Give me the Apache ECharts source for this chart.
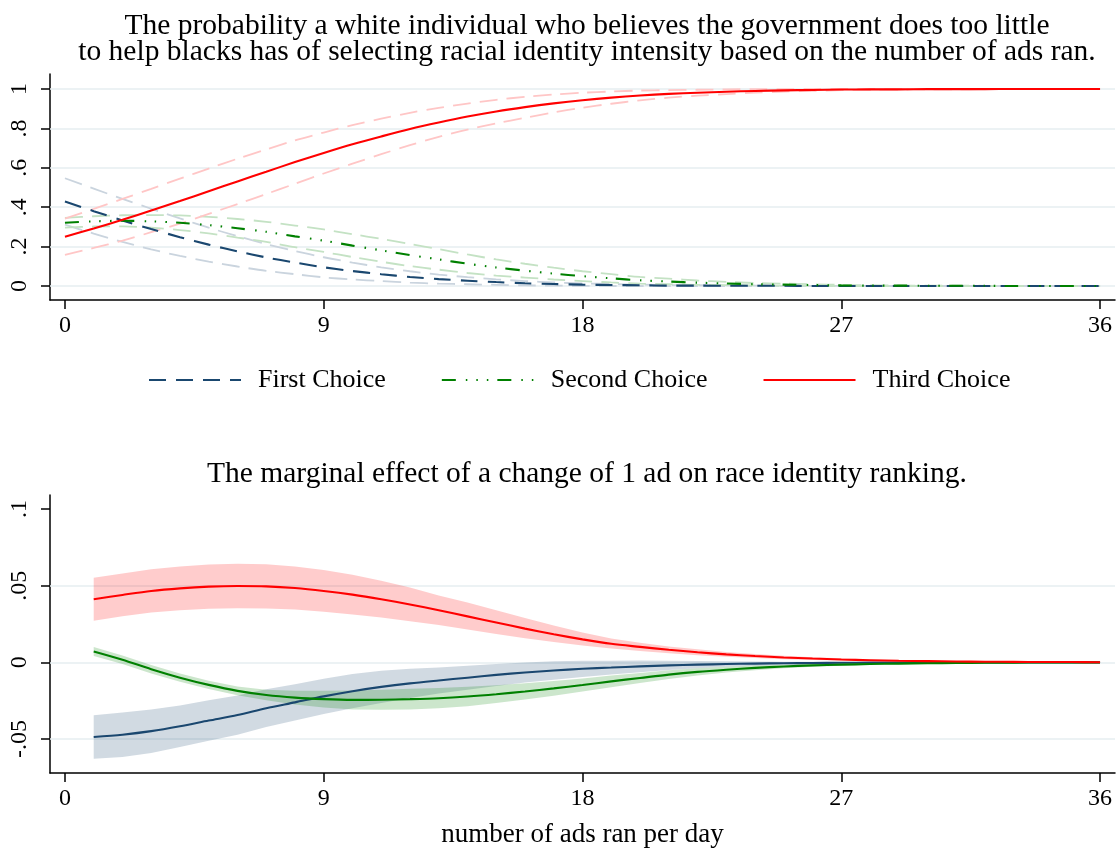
<!DOCTYPE html>
<html>
<head>
<meta charset="utf-8">
<script src="https://cdn.jsdelivr.net/npm/echarts@6/dist/echarts.min.js"></script>
<style>
  html, body { margin: 0; padding: 0; background: #ffffff; }
  #chart { width: 1117px; height: 849px; }
</style>
</head>
<body>
<div id="chart"></div>
<script>
// Ads per day (upper panel: predicted probabilities, lower panel: marginal effects)
const adsTop = [0,1,2,3,4,5,6,7,8,9,10,11,12,13,14,15,16,17,18,19,20,21,22,23,24,25,26,27,28,29,30,31,32,33,34,35,36];
const adsBottom = [1,2,3,4,5,6,7,8,9,10,11,12,13,14,15,16,17,18,19,20,21,22,23,24,25,26,27,28,29,30,31,32,33,34,35,36];

// Predicted probability of each ranking, with 95% bounds
const firstProb   = [0.429,0.380,0.333,0.289,0.248,0.210,0.176,0.145,0.119,0.095,0.076,0.060,0.046,0.035,0.027,0.020,0.014,0.010,0.007,0.005,0.004,0.002,0.002,0.001,0.001,0.001,0.000,0.000,0.000,0.000,0.000,0.000,0.000,0.000,0.000,0.000,0.000];
const firstProbHi = [0.547,0.494,0.442,0.392,0.343,0.296,0.253,0.213,0.178,0.146,0.119,0.095,0.075,0.058,0.045,0.034,0.025,0.018,0.013,0.010,0.007,0.005,0.004,0.003,0.002,0.001,0.001,0.001,0.000,0.000,0.000,0.000,0.000,0.000,0.000,0.000,0.000];
const firstProbLo = [0.311,0.266,0.224,0.186,0.153,0.124,0.099,0.077,0.060,0.044,0.033,0.025,0.017,0.012,0.009,0.006,0.003,0.002,0.001,0.000,0.000,0.000,0.000,0.000,0.000,0.000,0.000,0.000,0.000,0.000,0.000,0.000,0.000,0.000,0.000,0.000,0.000];

const secondProb   = [0.321,0.328,0.331,0.328,0.321,0.309,0.293,0.275,0.252,0.230,0.205,0.181,0.157,0.135,0.113,0.094,0.078,0.063,0.050,0.039,0.029,0.023,0.017,0.013,0.009,0.007,0.005,0.003,0.002,0.002,0.001,0.001,0.001,0.000,0.000,0.000,0.000];
const secondProbHi = [0.346,0.354,0.359,0.360,0.358,0.351,0.340,0.326,0.307,0.287,0.263,0.239,0.213,0.187,0.160,0.135,0.113,0.093,0.075,0.060,0.046,0.037,0.028,0.021,0.015,0.012,0.009,0.006,0.004,0.003,0.002,0.002,0.001,0.000,0.000,0.000,0.000];
const secondProbLo = [0.296,0.302,0.303,0.296,0.284,0.267,0.246,0.224,0.197,0.173,0.147,0.123,0.101,0.083,0.066,0.053,0.043,0.033,0.025,0.018,0.012,0.009,0.006,0.005,0.003,0.002,0.001,0.000,0.000,0.000,0.000,0.000,0.000,0.000,0.000,0.000,0.000];

const thirdProb   = [0.250,0.292,0.336,0.383,0.431,0.481,0.531,0.580,0.629,0.675,0.719,0.759,0.797,0.830,0.860,0.886,0.908,0.927,0.943,0.956,0.967,0.975,0.981,0.986,0.990,0.993,0.995,0.997,0.998,0.998,0.999,0.999,0.999,1.000,1.000,1.000,1.000];
const thirdProbHi = [0.342,0.391,0.442,0.493,0.545,0.596,0.646,0.693,0.739,0.779,0.817,0.849,0.879,0.904,0.926,0.945,0.960,0.972,0.981,0.987,0.992,0.994,0.996,0.998,0.999,0.999,1.000,1.000,1.000,1.000,1.000,1.000,1.000,1.000,1.000,1.000,1.000];
const thirdProbLo = [0.158,0.193,0.230,0.273,0.317,0.366,0.416,0.467,0.519,0.571,0.621,0.669,0.715,0.757,0.794,0.825,0.854,0.881,0.905,0.925,0.942,0.956,0.966,0.974,0.981,0.987,0.990,0.994,0.996,0.997,0.998,0.998,0.999,0.999,0.999,1.000,1.000];

// Marginal effect of one more ad, with 95% bounds
const firstME   = [-0.0487,-0.0472,-0.0449,-0.0417,-0.0380,-0.0344,-0.0299,-0.0261,-0.0222,-0.0188,-0.0160,-0.0137,-0.0118,-0.0100,-0.0082,-0.0066,-0.0053,-0.0042,-0.0034,-0.0026,-0.0020,-0.0015,-0.0011,-0.0008,-0.0006,-0.0004,-0.0003,-0.0002,-0.0002,-0.0001,-0.0001,-0.0001,0,0,0,0];
const firstMELo = [-0.0629,-0.0617,-0.0591,-0.0553,-0.0512,-0.0472,-0.0422,-0.0379,-0.0337,-0.0300,-0.0265,-0.0232,-0.0203,-0.0178,-0.0154,-0.0131,-0.0113,-0.0095,-0.0079,-0.0064,-0.0050,-0.0039,-0.0029,-0.0022,-0.0016,-0.0012,-0.0009,-0.0006,-0.0005,-0.0003,-0.0002,-0.0002,-0.0001,-0.0001,-0.0001,-0.0001];
const firstMEHi = [-0.0345,-0.0327,-0.0307,-0.0281,-0.0248,-0.0216,-0.0176,-0.0143,-0.0107,-0.0076,-0.0055,-0.0042,-0.0033,-0.0022,-0.0010,-0.0001,0.0007,0.0011,0.0011,0.0012,0.0010,0.0009,0.0007,0.0006,0.0004,0.0004,0.0003,0.0002,0.0001,0.0001,0,0,0.0001,0.0001,0.0001,0.0001];

const secondME   = [0.0071,0.0017,-0.0045,-0.0100,-0.0147,-0.0186,-0.0213,-0.0230,-0.0240,-0.0245,-0.0244,-0.0240,-0.0234,-0.0223,-0.0208,-0.0190,-0.0170,-0.0148,-0.0124,-0.0102,-0.0080,-0.0062,-0.0048,-0.0036,-0.0027,-0.0020,-0.0015,-0.0011,-0.0008,-0.0006,-0.0004,-0.0003,-0.0002,-0.0001,-0.0001,-0.0001];
const secondMELo = [0.0042,-0.0011,-0.0072,-0.0127,-0.0174,-0.0214,-0.0248,-0.0275,-0.0295,-0.0307,-0.0310,-0.0307,-0.0300,-0.0286,-0.0266,-0.0243,-0.0218,-0.0191,-0.0162,-0.0135,-0.0108,-0.0085,-0.0067,-0.0051,-0.0039,-0.0029,-0.0022,-0.0016,-0.0012,-0.0009,-0.0006,-0.0005,-0.0003,-0.0002,-0.0002,-0.0002];
const secondMEHi = [0.0100,0.0045,-0.0018,-0.0073,-0.0120,-0.0158,-0.0178,-0.0185,-0.0185,-0.0183,-0.0178,-0.0173,-0.0168,-0.0160,-0.0150,-0.0137,-0.0122,-0.0105,-0.0086,-0.0069,-0.0052,-0.0039,-0.0029,-0.0021,-0.0015,-0.0011,-0.0008,-0.0006,-0.0004,-0.0003,-0.0002,-0.0001,-0.0001,0,0,0];

const thirdME   = [0.0412,0.0440,0.0466,0.0483,0.0494,0.0498,0.0496,0.0485,0.0466,0.0442,0.0412,0.0378,0.0340,0.0300,0.0260,0.0220,0.0183,0.0150,0.0121,0.0101,0.0082,0.0066,0.0052,0.0041,0.0032,0.0025,0.0019,0.0014,0.0010,0.0008,0.0006,0.0004,0.0003,0.0002,0.0002,0.0001];
const thirdMELo = [0.0272,0.0301,0.0325,0.0340,0.0349,0.0353,0.0352,0.0345,0.0330,0.0312,0.0292,0.0268,0.0244,0.0215,0.0185,0.0158,0.0132,0.0110,0.0090,0.0074,0.0060,0.0047,0.0036,0.0028,0.0021,0.0016,0.0012,0.0009,0.0006,0.0005,0.0004,0.0003,0.0002,0.0001,0.0001,0.0001];
const thirdMEHi = [0.0552,0.0579,0.0607,0.0626,0.0639,0.0643,0.0640,0.0625,0.0602,0.0572,0.0532,0.0488,0.0436,0.0390,0.0340,0.0290,0.0240,0.0195,0.0155,0.0128,0.0104,0.0085,0.0068,0.0054,0.0043,0.0034,0.0026,0.0019,0.0014,0.0011,0.0008,0.0006,0.0004,0.0003,0.0003,0.0002];

// Tick values and labels
const xTicks = [0, 9, 18, 27, 36];
const probTicks = [0, 0.2, 0.4, 0.6, 0.8, 1];
const probTickLabels = ['0', '.2', '.4', '.6', '.8', '1'];
const meTicks = [-0.05, 0, 0.05, 0.1];
const meTickLabels = ['-.05', '0', '.05', '.1'];
const meGridValues = [-0.05, 0, 0.05];

const legendNames = ['First Choice', 'Second Choice', 'Third Choice'];

const FONT = 'Liberation Serif';
const NAVY = '#1a476f', GREEN = '#008000', RED = '#ff0000';
const NAVY_CI = '#cad4de', GREEN_CI = '#c4e2c4', RED_CI = '#ffc6c6';
const GRID_COLOR = '#e6eef0';

const pairs = (xs, ys) => xs.map((x, i) => [x, ys[i]]);
const labelFrom = (ticks, labels) => v => {
  const i = ticks.findIndex(t => Math.abs(t - v) < 1e-9);
  return i >= 0 ? labels[i] : '';
};

function probLine(name, ys, color, dash, width, z) {
  return {
    name, type: 'line', xAxisIndex: 0, yAxisIndex: 0,
    data: pairs(adsTop, ys), symbol: 'none', smooth: 0.3, silent: true, z,
    lineStyle: { color, width, type: dash, cap: 'butt' }, itemStyle: { color }
  };
}

function meLine(name, ys, color) {
  return {
    name, type: 'line', xAxisIndex: 1, yAxisIndex: 1,
    data: pairs(adsBottom, ys), symbol: 'none', smooth: 0.3, silent: true, z: 4,
    lineStyle: { color, width: 2.1 }, itemStyle: { color }
  };
}

// Shaded confidence band drawn as one polygon between the bounds
function meBand(name, lo, hi, fill) {
  return {
    name, type: 'custom', xAxisIndex: 1, yAxisIndex: 1, silent: true, z: 2,
    data: adsBottom.map((x, i) => [x, lo[i], hi[i]]),
    encode: { x: 0, y: [1, 2] },
    renderItem: (params, api) => {
      if (params.dataIndex !== 0) return null;
      const upper = adsBottom.map((x, i) => api.coord([x, hi[i]]));
      const lower = adsBottom.map((x, i) => api.coord([x, lo[i]])).reverse();
      return {
        type: 'polygon',
        shape: { points: upper.concat(lower) },
        style: { fill, stroke: null }
      };
    }
  };
}

function gridLines(values, xIdx, yIdx) {
  return {
    name: 'grid' + yIdx, type: 'line', xAxisIndex: xIdx, yAxisIndex: yIdx,
    data: [], silent: true, z: 1,
    markLine: {
      silent: true, symbol: 'none', z: 1, animation: false,
      label: { show: false },
      lineStyle: { color: GRID_COLOR, width: 1.6, type: 'solid' },
      data: values.map(v => ({ yAxis: v }))
    }
  };
}

const axisText = { fontFamily: FONT, fontSize: 24, color: '#000' };

function xAxisDef(gridIndex, withName) {
  const ax = {
    type: 'value', gridIndex, min: -0.52, max: 36.52,
    axisLine: { show: true, onZero: false, lineStyle: { color: '#000', width: 1.5 } },
    axisTick: { show: true, customValues: xTicks, length: 9, lineStyle: { color: '#000', width: 1.5 } },
    axisLabel: Object.assign({ customValues: xTicks, margin: 14, formatter: v => String(v) }, axisText),
    splitLine: { show: false }
  };
  if (withName) {
    Object.assign(ax, {
      name: 'number of ads ran per day', nameLocation: 'middle', nameGap: 48,
      nameTextStyle: { fontFamily: FONT, fontSize: 27, color: '#000' }
    });
  }
  return ax;
}

function yAxisDef(gridIndex, min, max, ticks, labels) {
  return {
    type: 'value', gridIndex, min, max,
    axisLine: { show: true, onZero: false, lineStyle: { color: '#000', width: 1.5 } },
    axisTick: { show: true, customValues: ticks, length: 9, lineStyle: { color: '#000', width: 1.5 } },
    axisLabel: Object.assign({ customValues: ticks, rotate: 90, margin: 18, formatter: labelFrom(ticks, labels) }, axisText),
    splitLine: { show: false }
  };
}

const series = [
  gridLines(probTicks, 0, 0),
  gridLines(meGridValues, 1, 1),

  // confidence bounds of the predicted probabilities
  probLine('First Choice lo', firstProbLo, NAVY_CI, [18, 9], 1.8, 2),
  probLine('First Choice hi', firstProbHi, NAVY_CI, [18, 9], 1.8, 2),
  probLine('Second Choice lo', secondProbLo, GREEN_CI, [18, 9], 1.8, 2),
  probLine('Second Choice hi', secondProbHi, GREEN_CI, [18, 9], 1.8, 2),
  probLine('Third Choice lo', thirdProbLo, RED_CI, [18, 9], 1.8, 2),
  probLine('Third Choice hi', thirdProbHi, RED_CI, [18, 9], 1.8, 2),

  // predicted probabilities
  probLine('First Choice', firstProb, NAVY, [17, 10], 2.1, 4),
  probLine('Second Choice', secondProb, GREEN, [14, 10, 1.5, 9, 1.5, 9, 1.5, 9], 2.1, 4),
  probLine('Third Choice', thirdProb, RED, 'solid', 2.1, 4),

  // marginal effects with shaded bands
  meBand('First Choice band', firstMELo, firstMEHi, 'rgba(26,71,111,0.2)'),
  meBand('Second Choice band', secondMELo, secondMEHi, 'rgba(0,128,0,0.2)'),
  meBand('Third Choice band', thirdMELo, thirdMEHi, 'rgba(255,0,0,0.2)'),
  meLine('First Choice ME', firstME, NAVY),
  meLine('Second Choice ME', secondME, GREEN),
  meLine('Third Choice ME', thirdME, RED)
];

const chart = echarts.init(document.getElementById('chart'), null, { renderer: 'canvas', width: 1117, height: 849 });
chart.setOption({
  animation: false,
  backgroundColor: '#ffffff',
  textStyle: { fontFamily: FONT },
  title: [
    {
      text: 'The probability a white individual who believes the government does too little\nto help blacks has of selecting racial identity intensity based on the number of ads ran.',
      left: 582, top: 8, textAlign: 'center',
      textStyle: { fontFamily: FONT, fontSize: 29.5, fontWeight: 'normal', color: '#000', lineHeight: 26 }
    },
    {
      text: 'The marginal effect of a change of 1 ad on race identity ranking.',
      left: 582, top: 456, textAlign: 'center',
      textStyle: { fontFamily: FONT, fontSize: 29.5, fontWeight: 'normal', color: '#000', lineHeight: 26 }
    }
  ],
  legend: {
    data: legendNames, left: 143, top: 362, orient: 'horizontal',
    itemWidth: 92, itemHeight: 14, itemGap: 55,
    selectedMode: false,
    itemStyle: { opacity: 0, color: 'rgba(0,0,0,0)', borderWidth: 0 },
    textStyle: { fontFamily: FONT, fontSize: 26, color: '#000', padding: [0, 0, 0, 12] }
  },
  grid: [
    { left: 50, width: 1065, top: 74, height: 226, containLabel: false },
    { left: 50, width: 1065, top: 495, height: 283, containLabel: false }
  ],
  xAxis: [xAxisDef(0, false), xAxisDef(1, true)],
  yAxis: [
    yAxisDef(0, -0.071, 1.076, probTicks, probTickLabels),
    yAxisDef(1, -0.0722, 0.1092, meTicks, meTickLabels)
  ],
  series
});
</script>
</body>
</html>
